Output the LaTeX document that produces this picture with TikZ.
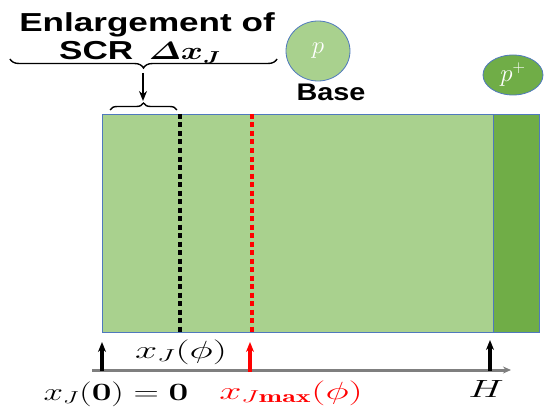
\documentclass[tikz,border=0pt]{standalone}
\usepackage{amsmath}
\usepackage{fontspec}
\setsansfont{Liberation Sans}
\usetikzlibrary{arrows.meta,decorations.pathreplacing,shapes.geometric}
\definecolor{basegreen}{HTML}{A9D18E}
\definecolor{dopegreen}{HTML}{70AD47}
\definecolor{edgeblue}{HTML}{4F79BD}
\definecolor{axisgray}{HTML}{7F7F7F}

\begin{document}
\begin{tikzpicture}[x=1pt,y=-1pt]
  \tikzstyle{region}=[draw=edgeblue,line width=0.8pt]
  \tikzstyle{head}=[font=\sffamily\bfseries\fontsize{26}{28}\selectfont,xscale=1.35,inner sep=0pt,anchor=base]
  \tikzstyle{mlabel}=[font=\fontsize{25}{27}\selectfont,xscale=1.6,inner sep=0pt]
  \tikzstyle{marker}=[line width=3.2pt,-{Stealth[length=10pt,width=8pt]}]
  \tikzstyle{junction}=[line width=3.5pt,dash pattern=on 5pt off 3.5pt]
  \tikzstyle{bracket}=[line width=1.4pt,decorate]
  \useasboundingbox (0,0) rectangle (555,412);

  % layers
  \path[region,fill=basegreen] (102,114) rectangle (493,332);
  \path[region,fill=dopegreen] (493,114) rectangle (539,332);

  % junction positions
  \coordinate (jt) at (180,114);
  \coordinate (jb) at (180,332);
  \coordinate (mt) at (252,114);
  \coordinate (mb) at (252,332);
  \draw[junction,black] (jt) -- (jb);
  \draw[junction,red] (mt) -- (mb);

  % titles
  \node[head] (enl) at (147,32) {Enlargement of};
  \node[head] (scr) at (140,60) {SCR\, $\boldsymbol{\varDelta x_J}$};
  \node[ellipse,region,fill=basegreen,minimum width=64pt,minimum height=60pt,inner sep=0pt,
        text=white,font=\fontsize{26}{28}\selectfont] (pnode) at (318,51) {$p$};
  \node[font=\sffamily\bfseries\fontsize{24}{26}\selectfont,xscale=1.2] (base) at (331,92) {Base};
  \node[ellipse,region,fill=dopegreen,minimum width=60pt,minimum height=40pt,inner sep=0pt,
        text=white,font=\fontsize{26}{28}\selectfont] (pplus) at (513,75) {$p^+$};

  % braces
  \coordinate (bigl) at (10,59);
  \coordinate (bigr) at (277,59);
  \coordinate (bigtip) at (143,73);
  \coordinate (smll) at (110,110);
  \coordinate (smlr) at (177,110);
  \coordinate (smltip) at (143,101);
  \draw[bracket,decoration={brace,amplitude=9pt,mirror}] (bigl) -- (bigr);
  \draw[bracket,decoration={brace,amplitude=7pt}] (smll) -- (smlr);
  \draw[marker,line width=2.6pt] (bigtip) -- (smltip);

  % axis
  \coordinate (axl) at (92,370);
  \coordinate (axr) at (511,370);
  \draw[axisgray,line width=3pt,-{Stealth[length=8pt,width=7pt]}] (axl) -- (axr);
  \coordinate (a0) at (102,371);
  \coordinate (a0t) at (102,342);
  \coordinate (am) at (250,372);
  \coordinate (amt) at (250,342);
  \coordinate (ah) at (490,371);
  \coordinate (aht) at (490,340);
  \draw[marker] (a0) -- (a0t);
  \draw[marker,red] (am) -- (amt);
  \draw[marker] (ah) -- (aht);

  % labels
  \node[mlabel] (xj) at (181,352) {$x_J(\phi)$};
  \node[mlabel,xscale=0.88] (x0) at (116,394) {$x_J(\boldsymbol{0}) = \boldsymbol{0}$};
  \node[mlabel,text=red] (xm) at (291,393) {$x_{J\mathbf{max}}(\phi)$};
  \node[mlabel] (hh) at (486,389) {$H$};
\end{tikzpicture}
\end{document}
